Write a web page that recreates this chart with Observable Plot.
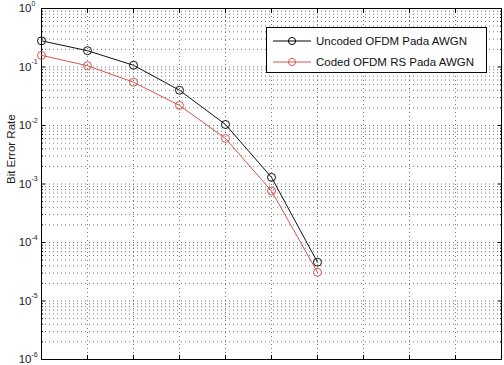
<!DOCTYPE html>
<html><head><meta charset="utf-8">
<script src="https://cdn.jsdelivr.net/npm/d3@7"></script>
<script src="https://cdn.jsdelivr.net/npm/@observablehq/plot@0.6"></script>
<style>
body{margin:0;background:#fff;font-family:"Liberation Sans",Arial,sans-serif;}
#wrap{position:relative;width:504px;height:365px;}
#legend{position:absolute;left:266px;top:27px;width:219px;height:44px;border:1px solid #000;background:#fff;font-size:11.5px;color:#111;}
#legend .row{position:absolute;left:5px;height:14px;display:flex;align-items:center;}
#legend svg{margin-right:4px;}
</style></head>
<body><div id="wrap"><div id="chart"></div>
<div id="legend">
 <div class="row" style="top:6px"><svg width="40" height="14"><line x1="1" x2="39" y1="7" y2="7" stroke="#000" stroke-width="1"/><circle cx="20" cy="7" r="3.6" fill="none" stroke="#000"/></svg>Uncoded OFDM Pada AWGN</div>
 <div class="row" style="top:27px"><svg width="40" height="14"><line x1="1" x2="39" y1="7" y2="7" stroke="#d9534f" stroke-width="1"/><circle cx="20" cy="7" r="3.6" fill="none" stroke="#d9534f"/></svg>Coded OFDM RS Pada AWGN</div>
</div></div>
<script>
const snr = [0, 1, 2, 3, 4, 5, 6];
const uncoded = [0.28, 0.19, 0.107, 0.040, 0.0104, 0.0013, 4.6e-5];
const coded = [0.158, 0.105, 0.055, 0.022, 0.006, 0.00076, 3.1e-5];
const xTicks = [0, 1, 2, 3, 4, 5, 6, 7, 8, 9, 10];
const decades = [1, 1e-1, 1e-2, 1e-3, 1e-4, 1e-5, 1e-6];
const exponents = ["0", "-1", "-2", "-3", "-4", "-5", "-6"];
const yLabel = "Bit Error Rate";

const minors = [];
for (let k = -6; k < 0; k++) for (let m = 2; m <= 9; m++) minors.push(m * Math.pow(10, k));

const rows = [];
snr.forEach((s, i) => {
  rows.push({x: s, y: uncoded[i], series: "Uncoded OFDM Pada AWGN"});
  rows.push({x: s, y: coded[i], series: "Coded OFDM RS Pada AWGN"});
});
const dec = decades.map((d, i) => ({d, e: exponents[i]}));
const font = "Liberation Sans, Arial, sans-serif";
const blank = () => "";

const chart = Plot.plot({
  width: 504, height: 365,
  marginLeft: 41, marginRight: 3, marginTop: 8, marginBottom: 6,
  style: {fontFamily: font, background: "#fff"},
  x: {domain: [0, 10], axis: null},
  y: {type: "log", domain: [1e-6, 1], axis: null},
  color: {domain: ["Uncoded OFDM Pada AWGN", "Coded OFDM RS Pada AWGN"], range: ["#111", "#d9534f"]},
  marks: [
    Plot.ruleY(decades.concat(minors), {stroke: "#555", strokeWidth: 0.8, strokeDasharray: "1,3"}),
    Plot.ruleX(xTicks, {stroke: "#555", strokeWidth: 0.8, strokeDasharray: "1,3"}),
    Plot.axisX({anchor: "bottom", ticks: xTicks, tickSize: -4, tickFormat: blank, label: null, stroke: "#000"}),
    Plot.axisX({anchor: "top", ticks: xTicks, tickSize: -4, tickFormat: blank, label: null, stroke: "#000"}),
    Plot.axisY({anchor: "left", ticks: decades, tickSize: -4, tickFormat: blank, label: null, stroke: "#000"}),
    Plot.axisY({anchor: "right", ticks: decades, tickSize: -4, tickFormat: blank, label: null, stroke: "#000"}),
    Plot.axisY({anchor: "left", ticks: minors, tickSize: -2, tickFormat: blank, label: null, stroke: "#000"}),
    Plot.axisY({anchor: "right", ticks: minors, tickSize: -2, tickFormat: blank, label: null, stroke: "#000"}),
    Plot.frame({stroke: "#000", strokeWidth: 1}),
    Plot.line(rows, {x: "x", y: "y", z: "series", stroke: "series", strokeWidth: 1}),
    Plot.dot(rows, {x: "x", y: "y", stroke: "series", r: 4, fill: "none", strokeWidth: 1}),
    Plot.text(dec, {y: "d", text: () => "10", frameAnchor: "left", dx: -10, textAnchor: "end", fontSize: 11.5, fill: "#222"}),
    Plot.text(dec, {y: "d", text: "e", frameAnchor: "left", dx: -10, dy: -5, textAnchor: "start", fontSize: 7, fill: "#222"}),
    Plot.text([yLabel], {text: d => d, frameAnchor: "left", dx: -30, rotate: -90, fontSize: 11.5, fill: "#222"})
  ]
});
document.getElementById("chart").appendChild(chart);
</script></body></html>
